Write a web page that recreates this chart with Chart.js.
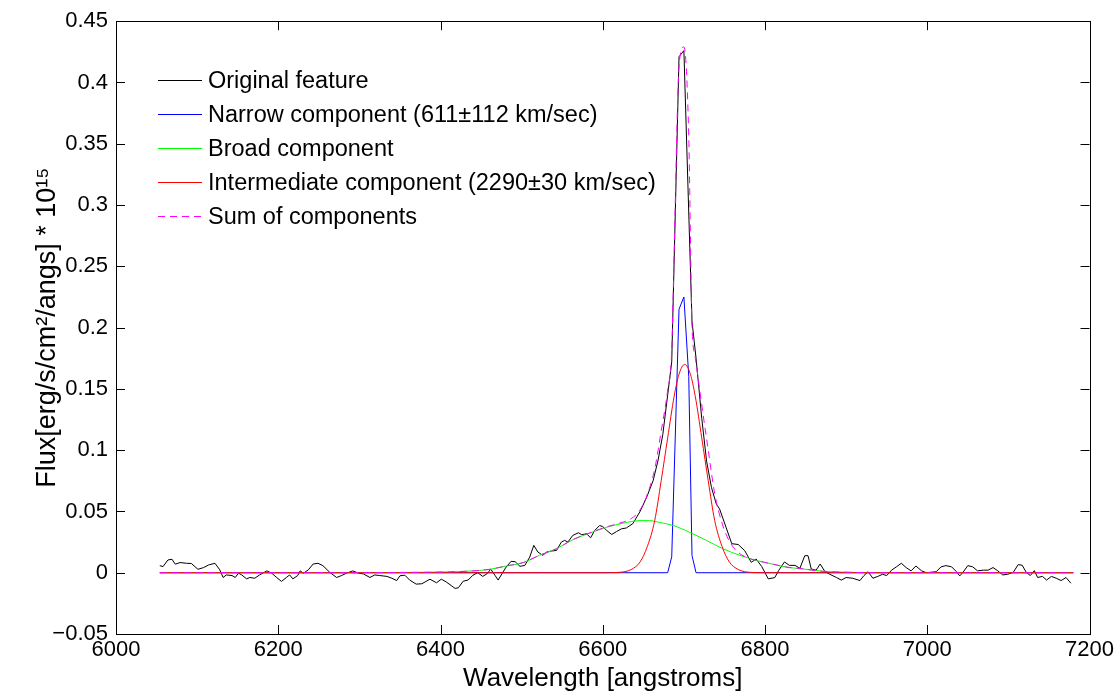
<!DOCTYPE html>
<html>
<head>
<meta charset="utf-8">
<title>Line profile decomposition</title>
<script src="https://cdn.jsdelivr.net/npm/chart.js@4.4.1/dist/chart.umd.min.js"></script>
<style>
    html, body { margin: 0; padding: 0; background: #fff; }
    #wrap { width: 1117px; height: 698px; }
</style>
</head>
<body>
<div id="wrap"><canvas id="spectrum" width="1117" height="698"></canvas></div>
<script>
// Tick labels
const xTicks = [6000, 6200, 6400, 6600, 6800, 7000, 7200];
const yTicks = [-0.05, 0, 0.05, 0.1, 0.15, 0.2, 0.25, 0.3, 0.35, 0.4, 0.45];

// Series names (legend order)
const seriesLabels = [
    'Original feature',
    'Narrow component (611\u00b1112 km/sec)',
    'Broad component',
    'Intermediate component (2290\u00b130 km/sec)',
    'Sum of components'
];

// Original feature (wavelength in angstroms, flux)
const origWave = [6054, 6058, 6064, 6069, 6073, 6079, 6087, 6093, 6101, 6108, 6114, 6122, 6128, 6132, 6136, 6143,
    6147, 6151, 6155, 6161, 6165, 6171, 6177, 6186, 6192, 6198, 6204, 6210, 6214, 6218, 6224, 6227, 6231, 6237,
    6243, 6249, 6255, 6264, 6272, 6278, 6284, 6292, 6299, 6305, 6313, 6319, 6325, 6334, 6340, 6346, 6350, 6356,
    6362, 6370, 6377, 6387, 6395, 6401, 6407, 6418, 6422, 6428, 6434, 6440, 6446, 6452, 6457, 6462, 6467, 6471,
    6477, 6481, 6487, 6492, 6498, 6504, 6510, 6515, 6520, 6526, 6531, 6537, 6543, 6549, 6553, 6557, 6563, 6570,
    6574, 6580, 6585, 6590, 6596, 6600, 6605, 6611, 6617, 6623, 6629, 6637, 6646, 6654, 6662, 6668, 6674, 6680,
    6685, 6694, 6700, 6710, 6715, 6722, 6728, 6734, 6740, 6744, 6752, 6759, 6767, 6775, 6783, 6789, 6796, 6804,
    6812, 6817, 6824, 6830, 6837, 6843, 6849, 6853, 6857, 6863, 6868, 6874, 6880, 6888, 6894, 6900, 6908, 6917,
    6922, 6927, 6933, 6939, 6945, 6950, 6956, 6962, 6968, 6974, 6980, 6986, 6993, 6999, 7003, 7011, 7017, 7023,
    7030, 7036, 7040, 7044, 7050, 7056, 7062, 7069, 7075, 7081, 7087, 7093, 7099, 7106, 7112, 7117, 7122, 7127,
    7132, 7136, 7142, 7147, 7153, 7159, 7165, 7171, 7177];
const origFlux = [0.0058, 0.0050, 0.0104, 0.0110, 0.0070, 0.0083, 0.0077, 0.0075, 0.0028, 0.0042, 0.0063, 0.0077,
    0.0023, -0.0039, -0.0018, -0.0023, -0.0039, -0.0004, -0.0018, -0.0050, -0.0039, -0.0045, -0.0018, 0.0015,
    -0.0004, -0.0039, -0.0071, -0.0039, -0.0018, -0.0050, -0.0023, 0.0015, -0.0004, 0.0023, 0.0071, 0.0077, 0.0058,
    0.0000, -0.0039, -0.0023, -0.0004, 0.0015, -0.0004, -0.0010, -0.0039, -0.0018, -0.0023, -0.0030, -0.0045,
    -0.0064, -0.0025, -0.0020, -0.0060, -0.0093, -0.0090, -0.0053, -0.0082, -0.0053, -0.0075, -0.0128, -0.0123,
    -0.0069, -0.0060, -0.0020, 0.0000, -0.0030, -0.0010, 0.0028, -0.0020, -0.0060, 0.0005, 0.0047, 0.0093, 0.0090,
    0.0052, 0.0060, 0.0128, 0.0223, 0.0169, 0.0142, 0.0169, 0.0177, 0.0182, 0.0250, 0.0264, 0.0250, 0.0304, 0.0326,
    0.0310, 0.0318, 0.0285, 0.0344, 0.0385, 0.0377, 0.0344, 0.0312, 0.0336, 0.0358, 0.0365, 0.0400, 0.0500, 0.0614,
    0.0750, 0.0912, 0.1128, 0.1450, 0.1720, 0.4210, 0.4260, 0.2050, 0.1750, 0.1260, 0.0910, 0.0695, 0.0560, 0.0520,
    0.0370, 0.0237, 0.0230, 0.0180, 0.0085, 0.0112, 0.0050, -0.0050, -0.0040, 0.0020, 0.0088, 0.0060, 0.0060,
    0.0036, 0.0139, 0.0139, 0.0030, 0.0021, 0.0071, 0.0008, -0.0013, -0.0039, -0.0060, -0.0039, -0.0045, -0.0064,
    -0.0023, 0.0008, -0.0045, -0.0030, -0.0013, -0.0023, 0.0021, 0.0048, 0.0077, 0.0042, 0.0015, 0.0055, 0.0015,
    0.0000, 0.0003, 0.0008, 0.0048, 0.0058, 0.0048, 0.0008, -0.0026, 0.0003, 0.0058, 0.0048, 0.0015, 0.0021, 0.0021,
    0.0042, 0.0015, -0.0018, -0.0013, 0.0003, 0.0066, 0.0061, 0.0003, -0.0023, 0.0017, -0.0039, -0.0030, -0.0060,
    -0.0030, -0.0045, -0.0064, -0.0039, -0.0086];

// Narrow component
const narrowWave = [6054, 6680, 6685, 6694, 6700, 6706, 6710, 6715, 7180];
const narrowFlux = [0, 0, 0.013, 0.215, 0.225, 0.160, 0.014, 0, 0];

// Broad component
const broadWave = [6054, 6300, 6350, 6411, 6440, 6461, 6481, 6502, 6522, 6543, 6563, 6584, 6605, 6625, 6646,
    6658, 6670, 6687, 6707, 6728, 6748, 6769, 6789, 6810, 6830, 6843, 6871, 6900, 6950, 7180];
const broadFlux = [0, 0, 0.0002, 0.0007, 0.0015, 0.0028, 0.0055, 0.0083, 0.0142, 0.0196, 0.0269, 0.0323, 0.0371,
    0.0404, 0.0425, 0.0425, 0.0410, 0.0385, 0.0330, 0.0263, 0.0196, 0.0142, 0.0101, 0.0069, 0.0042, 0.0034, 0.0012,
    0.0004, 0, 0];

// Intermediate component
const interWave = [6054, 6600, 6620, 6635, 6646, 6655, 6664, 6672, 6680, 6688, 6694, 6701, 6708, 6714, 6722,
    6730, 6738, 6747, 6756, 6767, 6782, 6800, 7180];
const interFlux = [0, 0, 0.0003, 0.0026, 0.0088, 0.0215, 0.0425, 0.075, 0.110, 0.144, 0.162, 0.170, 0.162, 0.144,
    0.110, 0.075, 0.0425, 0.0215, 0.0088, 0.0026, 0.0003, 0, 0];

// Sum of components
const sumWave = [6054, 6300, 6350, 6411, 6440, 6461, 6481, 6502, 6522, 6543, 6563, 6584, 6605, 6620, 6635, 6646,
    6655, 6664, 6672, 6680, 6685, 6688, 6694, 6700, 6706, 6710, 6714, 6722, 6730, 6738, 6747, 6756, 6767, 6782,
    6789, 6810, 6830, 6843, 6871, 6900, 6950, 7180];
const sumFlux = [0, 0, 0.0002, 0.0007, 0.0015, 0.0028, 0.0055, 0.0083, 0.0142, 0.0196, 0.0270, 0.0325, 0.0375,
    0.0403, 0.0441, 0.0513, 0.0640, 0.0845, 0.1155, 0.1490, 0.1815, 0.2620, 0.4130, 0.4290, 0.3560, 0.2020, 0.1760,
    0.1370, 0.1000, 0.0645, 0.0405, 0.0258, 0.0166, 0.0113, 0.0101, 0.0069, 0.0042, 0.0034, 0.0012, 0.0004, 0, 0];

const FONT = "'Liberation Sans', Arial, sans-serif";

function toPoints(xs, ys) {
    return xs.map((x, i) => ({ x: x, y: ys[i] }));
}

function formatFlux(v) {
    const s = String(+v.toFixed(2));
    return s.replace('-', '\u2212');
}

// Box with inward ticks on all four sides
const boxPlugin = {
    id: 'boxTicks',
    afterDatasetsDraw(chart, args, opts) {
        const ctx = chart.ctx;
        const area = chart.chartArea;
        const xs = chart.scales.x;
        const ys = chart.scales.y;
        const len = opts.tickLength;
        ctx.save();
        ctx.strokeStyle = '#000';
        ctx.lineWidth = 1;
        ctx.beginPath();
        xTicks.forEach(v => {
            const px = Math.round(xs.getPixelForValue(v)) + 0.5;
            ctx.moveTo(px, area.bottom);
            ctx.lineTo(px, area.bottom - len);
            ctx.moveTo(px, area.top);
            ctx.lineTo(px, area.top + len);
        });
        yTicks.forEach(v => {
            const py = Math.round(ys.getPixelForValue(v)) + 0.5;
            ctx.moveTo(area.left, py);
            ctx.lineTo(area.left + len, py);
            ctx.moveTo(area.right, py);
            ctx.lineTo(area.right - len, py);
        });
        ctx.stroke();
        ctx.strokeRect(Math.round(area.left) + 0.5, Math.round(area.top) + 0.5,
            Math.round(area.right - area.left), Math.round(area.bottom - area.top));
        ctx.restore();
    }
};

// Legend drawn inside the plot, without a frame
const insideLegend = {
    id: 'insideLegend',
    afterDatasetsDraw(chart, args, opts) {
        const ctx = chart.ctx;
        ctx.save();
        ctx.font = opts.fontSize + 'px ' + FONT;
        ctx.textBaseline = 'middle';
        ctx.fillStyle = '#000';
        chart.data.datasets.forEach((ds, i) => {
            const y = opts.top + i * opts.rowGap + 0.5;
            ctx.beginPath();
            ctx.strokeStyle = ds.borderColor;
            ctx.lineWidth = ds.borderWidth;
            ctx.setLineDash(ds.borderDash || []);
            ctx.moveTo(opts.lineStart, y);
            ctx.lineTo(opts.lineEnd, y);
            ctx.stroke();
            ctx.setLineDash([]);
            ctx.fillText(ds.label, opts.textX, y + 1);
        });
        ctx.restore();
    }
};

const ctx = document.getElementById('spectrum').getContext('2d');
new Chart(ctx, {
    type: 'line',
    data: {
        datasets: [
            {
                label: seriesLabels[0],
                data: toPoints(origWave, origFlux),
                borderColor: '#000000',
                borderWidth: 1,
                order: 5
            },
            {
                label: seriesLabels[1],
                data: toPoints(narrowWave, narrowFlux),
                borderColor: '#0000ff',
                borderWidth: 1,
                order: 4
            },
            {
                label: seriesLabels[2],
                data: toPoints(broadWave, broadFlux),
                borderColor: '#00ff00',
                borderWidth: 1,
                cubicInterpolationMode: 'monotone',
                order: 3
            },
            {
                label: seriesLabels[3],
                data: toPoints(interWave, interFlux),
                borderColor: '#ff0000',
                borderWidth: 1,
                cubicInterpolationMode: 'monotone',
                order: 2
            },
            {
                label: seriesLabels[4],
                data: toPoints(sumWave, sumFlux),
                borderColor: '#ff00ff',
                borderWidth: 1,
                borderDash: [7, 5],
                cubicInterpolationMode: 'monotone',
                order: 1
            }
        ]
    },
    options: {
        responsive: false,
        animation: false,
        elements: {
            point: { radius: 0, hoverRadius: 0 },
            line: { tension: 0, fill: false }
        },
        layout: {
            padding: { top: 17, right: 27, bottom: 0, left: 0 }
        },
        scales: {
            x: {
                type: 'linear',
                min: 6000,
                max: 7200,
                afterBuildTicks(scale) {
                    scale.ticks = xTicks.map(v => ({ value: v }));
                },
                afterFit(scale) {
                    scale.height = 64;
                },
                grid: { display: false, drawTicks: false },
                border: { display: false },
                ticks: {
                    color: '#000',
                    padding: 3,
                    maxRotation: 0,
                    autoSkip: false,
                    font: { family: FONT, size: 22 },
                    callback: v => String(v)
                },
                title: {
                    display: true,
                    text: 'Wavelength [angstroms]',
                    color: '#000',
                    font: { family: FONT, size: 26 },
                    padding: { top: 0, bottom: 4 }
                }
            },
            y: {
                type: 'linear',
                min: -0.05,
                max: 0.45,
                afterBuildTicks(scale) {
                    scale.ticks = yTicks.map(v => ({ value: v }));
                },
                afterFit(scale) {
                    scale.width = 116;
                },
                grid: { display: false, drawTicks: false },
                border: { display: false },
                ticks: {
                    color: '#000',
                    padding: 8,
                    autoSkip: false,
                    font: { family: FONT, size: 22 },
                    callback: v => formatFlux(v)
                },
                title: {
                    display: true,
                    text: 'Flux[erg/s/cm\u00b2/angs] * 10\u00b9\u2075',
                    color: '#000',
                    font: { family: FONT, size: 27 },
                    padding: { top: 31, bottom: 0 }
                }
            }
        },
        plugins: {
            legend: { display: false },
            tooltip: { enabled: false },
            boxTicks: { tickLength: 9 },
            insideLegend: {
                top: 80,
                rowGap: 34,
                lineStart: 158,
                lineEnd: 202,
                textX: 208,
                fontSize: 23.5
            }
        }
    },
    plugins: [boxPlugin, insideLegend]
});
</script>
</body>
</html>
